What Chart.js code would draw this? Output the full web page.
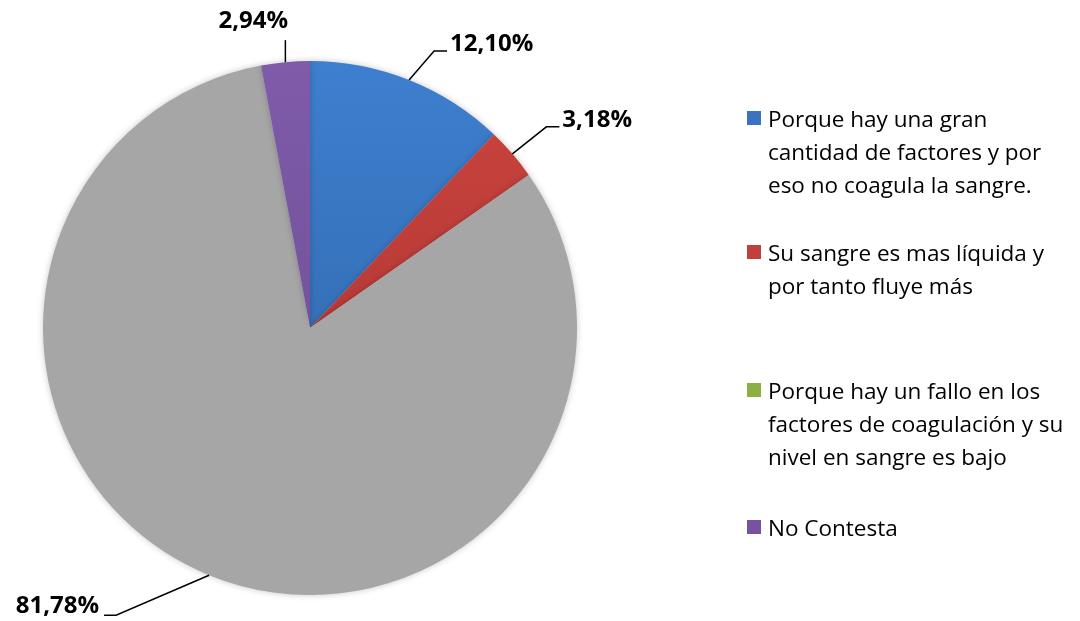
<!DOCTYPE html>
<html>
<head>
<meta charset="utf-8">
<script src="https://cdn.jsdelivr.net/npm/chart.js@4.4.1/dist/chart.umd.min.js"></script>
<style>
  html, body { margin: 0; padding: 0; background: #fff; }
  #wrap { position: relative; width: 1080px; height: 621px; }
  #legend { position: absolute; left: 747px; top: 0; font-family: "Open Sans", Lato, sans-serif; font-size: 22.5px; color: #000; }
  .item { position: absolute; left: 0; width: 340px; line-height: 33px; white-space: nowrap; }
  .box { position: absolute; left: 0; top: 9px; width: 14px; height: 14px; }
  .txt { position: absolute; left: 21px; top: 0; }
</style>
</head>
<body>
<div id="wrap">
  <canvas id="pie" width="1080" height="621"></canvas>
  <div id="legend"></div>
</div>
<script>
// Answers (legend text, split per line as drawn)
const labels = [
  ['Porque hay una gran', 'cantidad de factores y por', 'eso no coagula la sangre.'],
  ['Su sangre es mas líquida y', 'por tanto fluye más'],
  ['Porque hay un fallo en los', 'factores de coagulación y su', 'nivel en sangre es bajo'],
  ['No Contesta']
];

// Percent of answers per option
const values = [12.10, 3.18, 81.78, 2.94];

// Slice colours (top, bottom of gradient) and legend swatch colours
const sliceTop = ['#3e7fcf', '#cc443f', '#a6a6a6', '#7f5ba9'];
const sliceBottom = ['#2d62a3', '#a3302d', '#a6a6a6', '#694a91'];
const legendColors = ['#3a74c0', '#c0403c', '#8cb043', '#7652a0'];

// Leader line layout per slice: elbow offset from edge point, horizontal run
const leader = [
  { dx: 25, dy: -29, run: 13, align: 'left' },
  { dx: 34, dy: -27, run: 13, align: 'left' },
  { dx: -93, dy: 40, run: -12, align: 'right' },
  { dx: 0, dy: -22, run: 0, align: 'center' }
];
const legendTops = [102, 236, 374, 511];

function gradientFor(ctx) {
  const chart = ctx.chart;
  const area = chart.chartArea;
  if (!area) return sliceTop[ctx.dataIndex];
  const g = chart.ctx.createLinearGradient(0, area.top, 0, area.bottom);
  g.addColorStop(0, sliceTop[ctx.dataIndex]);
  g.addColorStop(1, sliceBottom[ctx.dataIndex]);
  return g;
}

// soft shadow round the pie, as in the original
const pieShadow = {
  id: 'pieShadow',
  beforeDatasetsDraw(chart) {
    const ctx = chart.ctx;
    ctx.save();
    ctx.shadowColor = 'rgba(0,0,0,0.22)';
    ctx.shadowBlur = 6;
  },
  afterDatasetsDraw(chart) {
    chart.ctx.restore();
  }
};

const pieLabels = {
  id: 'pieLabels',
  afterDatasetsDraw(chart) {
    const ctx = chart.ctx;
    const arcs = chart.getDatasetMeta(0).data;
    ctx.save();
    ctx.strokeStyle = '#000';
    ctx.lineWidth = 1.5;
    ctx.fillStyle = '#000';
    ctx.font = 'bold 24px "Open Sans", Lato, sans-serif';
    ctx.textBaseline = 'middle';
    arcs.forEach((arc, i) => {
      const mid = (arc.startAngle + arc.endAngle) / 2;
      const ex = arc.x + Math.cos(mid) * arc.outerRadius;
      const ey = arc.y + Math.sin(mid) * arc.outerRadius;
      const l = leader[i];
      const bx = ex + l.dx, by = ey + l.dy;
      ctx.beginPath();
      ctx.moveTo(ex, ey);
      ctx.lineTo(bx, by);
      ctx.lineTo(bx + l.run, by);
      ctx.stroke();
      const text = values[i].toFixed(2).replace('.', ',') + '%';
      if (l.align === 'center') {
        ctx.textAlign = 'center';
        ctx.fillText(text, bx - 32, by - 19);
      } else if (l.align === 'left') {
        ctx.textAlign = 'left';
        ctx.fillText(text, bx + l.run + 3, by - 7);
      } else {
        ctx.textAlign = 'right';
        ctx.fillText(text, bx + l.run - 5, by - 9);
      }
    });
    ctx.restore();
  }
};

new Chart(document.getElementById('pie'), {
  type: 'pie',
  data: {
    labels: labels.map(l => l.join(' ')),
    datasets: [{
      data: values,
      backgroundColor: gradientFor,
      borderWidth: 0
    }]
  },
  options: {
    responsive: false,
    animation: false,
    layout: { padding: { left: 43, right: 503, top: 61, bottom: 26 } },
    plugins: {
      legend: { display: false },
      tooltip: { enabled: false }
    }
  },
  plugins: [pieShadow, pieLabels]
});

// HTML legend
const legendEl = document.getElementById('legend');
labels.forEach((lines, i) => {
  const item = document.createElement('div');
  item.className = 'item';
  item.style.top = legendTops[i] + 'px';
  item.innerHTML = '<div class="box" style="background:' + legendColors[i] + '"></div>' +
    '<div class="txt">' + lines.join('<br>') + '</div>';
  legendEl.appendChild(item);
});
</script>
</body>
</html>
